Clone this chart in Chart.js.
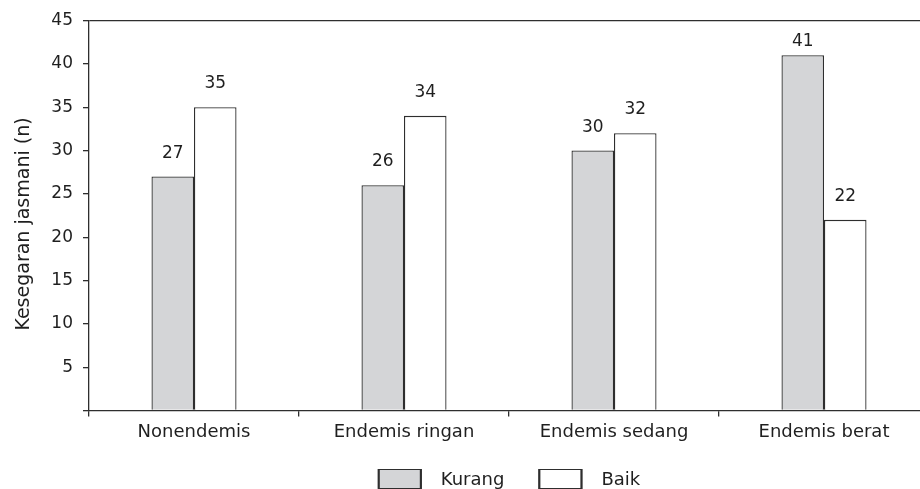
<!DOCTYPE html>
<html><head><meta charset="utf-8">
<script src="https://cdn.jsdelivr.net/npm/chart.js@4"></script>
<style>html,body{margin:0;padding:0;background:#fff;overflow:hidden;width:920px;height:489px}</style>
</head><body>
<canvas id="c" width="930" height="489" style="display:block;width:930px;height:489px"></canvas>
<script>
const categories = ['Nonendemis', 'Endemis ringan', 'Endemis sedang', 'Endemis berat'];
const seriesNames = ['Kurang', 'Baik'];
const kurangValues = [27, 26, 30, 41];
const baikValues = [35, 34, 32, 22];
const yMin = 0, yMax = 45, yStep = 5;
const yTitle = 'Kesegaran jasmani (n)';

const FONT = 'DejaVu Sans';
const INK = '#1f1f1f';
const AXIS = '#2e2e2e';
const fills = ['#d4d5d7', '#ffffff'];

const dataLabels = {
  id: 'dataLabels',
  afterDatasetsDraw(chart) {
    const ctx = chart.ctx;
    ctx.save();
    ctx.font = '17px "' + FONT + '"';
    ctx.fillStyle = INK;
    ctx.textAlign = 'center';
    ctx.textBaseline = 'alphabetic';
    chart.data.datasets.forEach((ds, i) => {
      chart.getDatasetMeta(i).data.forEach((el, j) => {
        const y = Math.max(el.y - 19, 46);
        ctx.fillText(String(ds.data[j]), el.x, y);
      });
    });
    ctx.restore();
  }
};

const yTitlePlugin = {
  id: 'yTitlePlugin',
  afterDraw(chart) {
    const ctx = chart.ctx;
    ctx.save();
    ctx.translate(24, 224);
    ctx.rotate(-Math.PI / 2);
    ctx.font = '19px "' + FONT + '"';
    ctx.fillStyle = INK;
    ctx.textAlign = 'center';
    ctx.textBaseline = 'middle';
    ctx.fillText(yTitle, 0, 0);
    ctx.restore();
  }
};

const legendPlugin = {
  id: 'legendPlugin',
  afterDraw(chart) {
    const ctx = chart.ctx;
    const a = chart.chartArea;
    ctx.save();
    ctx.font = '18px "' + FONT + '"';
    const boxW = 43, boxH = 19, gapText = 20, gapItem = 34;
    const widths = seriesNames.map(n => ctx.measureText(n).width);
    let total = 0;
    widths.forEach((w, i) => { total += boxW + gapText + w + (i < widths.length - 1 ? gapItem : 0); });
    let x = (a.left + a.right) / 2 - total / 2;
    const by = 469;
    seriesNames.forEach((n, i) => {
      ctx.fillStyle = fills[i];
      ctx.fillRect(x, by, boxW, boxH);
      ctx.strokeStyle = AXIS;
      ctx.lineWidth = 1;
      ctx.strokeRect(x + 0.5, by + 0.5, boxW, boxH);
      ctx.lineWidth = 2;
      ctx.beginPath();
      ctx.moveTo(x + 1, by); ctx.lineTo(x + 1, by + boxH + 1);
      ctx.moveTo(x + boxW, by); ctx.lineTo(x + boxW, by + boxH + 1);
      ctx.stroke();
      ctx.fillStyle = INK;
      ctx.textAlign = 'left';
      ctx.textBaseline = 'alphabetic';
      ctx.fillText(n, x + boxW + gapText, 485);
      x += boxW + gapText + widths[i] + gapItem;
    });
    ctx.restore();
  }
};

new Chart(document.getElementById('c'), {
  type: 'bar',
  data: {
    labels: categories,
    datasets: [
      { label: seriesNames[0], data: kurangValues, backgroundColor: fills[0], borderColor: AXIS, borderWidth: 1.3 },
      { label: seriesNames[1], data: baikValues, backgroundColor: fills[1], borderColor: AXIS, borderWidth: 1.3 }
    ]
  },
  options: {
    responsive: false,
    animation: false,
    devicePixelRatio: 1,
    categoryPercentage: 0.405,
    barPercentage: 1,
    layout: { padding: { top: 20.5, right: 1, left: 0, bottom: 0 } },
    plugins: { legend: { display: false }, tooltip: { enabled: false }, title: { display: false } },
    scales: {
      x: {
        type: 'category',
        offset: true,
        grid: { offset: true, color: 'transparent', tickColor: AXIS, tickLength: 6, lineWidth: 1.3 },
        border: { display: true, color: AXIS, width: 1.3 },
        ticks: { color: INK, font: { family: FONT, size: 18 }, padding: 5, maxRotation: 0, autoSkip: false },
        afterFit(s) { s.height = 78.5; }
      },
      y: {
        min: yMin, max: yMax,
        grid: {
          color: c => (c.tick && c.tick.value === yMax) ? AXIS : 'transparent',
          tickColor: AXIS, tickLength: 6, lineWidth: 1.3
        },
        border: { display: true, color: AXIS, width: 1.3 },
        ticks: {
          stepSize: yStep, color: INK, font: { family: FONT, size: 17 }, padding: 10,
          callback: v => v === 0 ? '' : String(v)
        },
        afterFit(s) { s.width = 89; }
      }
    }
  },
  plugins: [dataLabels, yTitlePlugin, legendPlugin]
});
</script>
</body></html>
